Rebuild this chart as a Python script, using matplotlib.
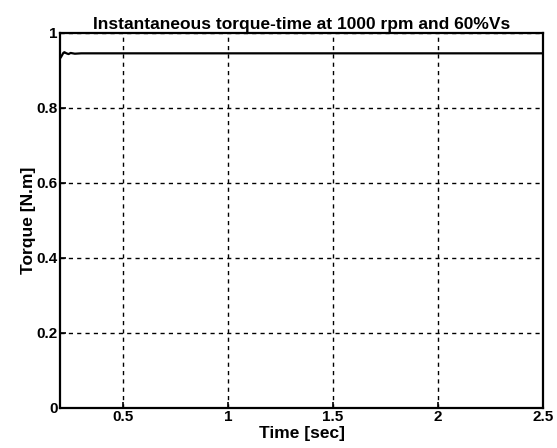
import numpy as np
import matplotlib.pyplot as plt

plt.rcParams['font.family'] = ['Liberation Sans', 'DejaVu Sans']

# torque readings (N.m) against time (sec)
time = [0.20, 0.205, 0.21, 0.215, 0.22, 0.23, 0.24, 0.25, 0.27, 0.30, 0.40, 0.60,
        0.80, 1.00, 1.20, 1.40, 1.60, 1.80, 2.00, 2.20, 2.40, 2.50]
torque = [0.932, 0.936, 0.941, 0.946, 0.948, 0.945, 0.943, 0.946, 0.944, 0.945, 0.945, 0.945,
          0.945, 0.945, 0.945, 0.945, 0.945, 0.945, 0.945, 0.945, 0.945, 0.945]

xticks = [0.5, 1, 1.5, 2, 2.5]
xticklabels = ['0.5', '1', '1.5', '2', '2.5']
yticks = [0, 0.2, 0.4, 0.6, 0.8, 1]
yticklabels = ['0', '0.2', '0.4', '0.6', '0.8', '1']

fig = plt.figure(figsize=(5.57, 4.48), dpi=100)
ax = fig.add_axes([0.108, 0.09, 0.867, 0.837])

ax.plot(time, torque, c='black', lw=1.6)

ax.set_xlim(0.2, 2.5)
ax.set_ylim(0, 1)
ax.set_xticks(xticks)
ax.set_xticklabels(xticklabels, weight='bold', size=11)
ax.set_yticks(yticks)
ax.set_yticklabels(yticklabels, weight='bold', size=11)
ax.tick_params(direction='in', length=4, width=1.2, pad=2)

ax.grid(True, color='black', linestyle=(0, (3, 3)), lw=1)
for s in ax.spines.values():
    s.set_linewidth(1.6)

ax.set_xlabel('Time [sec]', size=12.5, weight='bold', labelpad=1)
ax.set_ylabel('Torque [N.m]', size=12.5, weight='bold', labelpad=0)
ax.set_title('Instantaneous torque-time at 1000 rpm and 60%Vs', size=12.5, weight='bold', pad=3)

fig.savefig('out.png', dpi=100)
